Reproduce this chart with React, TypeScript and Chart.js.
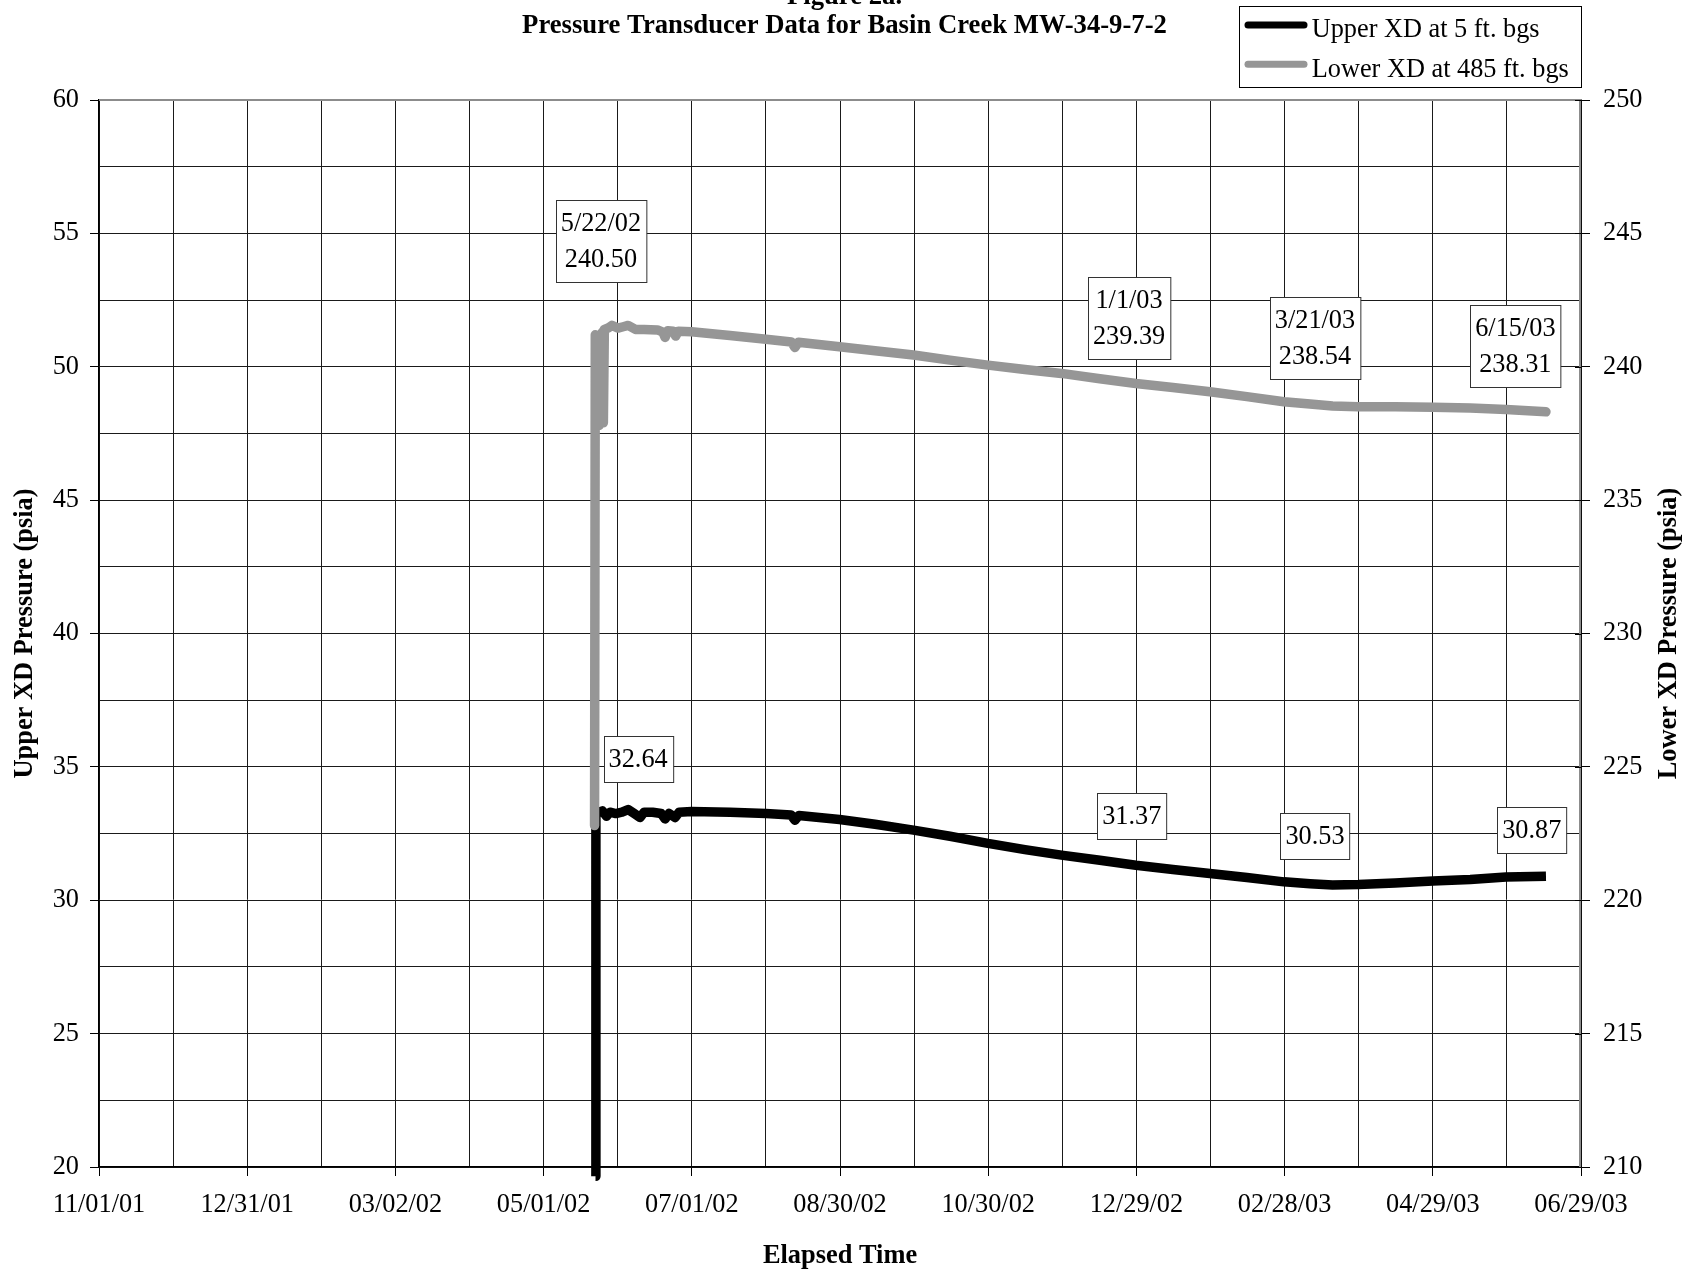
import React, { useEffect, useRef } from 'react';
import { Chart, registerables } from 'chart.js';

Chart.register(...registerables);

// ---- data ----
// x values: elapsed days since 11/01/01
const BASE_DATE_UTC = Date.UTC(2001, 10, 1);
const X_MIN = 0;
const X_MAX = 605;
const X_STEP = 30.25;
const X_LABEL_STEP = 60.5;

const upperDays = [202.69, 202.85, 204.0, 205.5, 207.2, 208.6, 211.0, 213.5, 216.0, 218.5, 220.9, 222.5, 226.0, 229.5, 231.1, 232.7, 235.2, 236.8, 241.9, 257.6, 272.3, 282.5, 284.1, 285.7, 302.3, 316.8, 332.5, 347.4, 362.9, 378.0, 392.9, 408.6, 423.3, 438.4, 453.5, 468.6, 483.7, 494.4, 503.6, 514.0, 529.1, 544.5, 559.8, 574.4, 590.7];
const upperPsia = [19.65, 33.2, 33.3, 33.35, 33.15, 33.3, 33.25, 33.3, 33.4, 33.25, 33.1, 33.3, 33.3, 33.25, 33.05, 33.25, 33.1, 33.3, 33.33, 33.3, 33.25, 33.2, 33.0, 33.18, 33.03, 32.85, 32.63, 32.4, 32.13, 31.9, 31.69, 31.5, 31.31, 31.15, 31.0, 30.85, 30.69, 30.62, 30.57, 30.59, 30.65, 30.72, 30.78, 30.87, 30.9];

const lowerDays = [202.3, 202.6, 203.4, 204.2, 204.6, 205.1, 205.5, 205.9, 206.3, 207.8, 209.4, 211.9, 214.0, 216.0, 219.0, 222.5, 228.0, 230.2, 231.1, 232.2, 234.5, 235.4, 236.5, 241.9, 257.6, 272.3, 282.7, 284.1, 285.5, 302.3, 316.8, 332.5, 347.4, 362.9, 378.0, 392.9, 408.6, 423.3, 438.4, 453.5, 468.6, 483.7, 494.4, 503.6, 514.0, 529.1, 544.5, 559.8, 574.4, 590.7];
const lowerPsia = [222.8, 241.2, 241.0, 237.8, 241.2, 238.0, 241.3, 237.9, 241.4, 241.45, 241.55, 241.45, 241.5, 241.55, 241.4, 241.4, 241.38, 241.3, 241.1, 241.35, 241.33, 241.15, 241.33, 241.31, 241.17, 241.03, 240.93, 240.72, 240.92, 240.75, 240.6, 240.44, 240.25, 240.06, 239.9, 239.75, 239.55, 239.37, 239.22, 239.06, 238.88, 238.69, 238.6, 238.53, 238.5, 238.5, 238.48, 238.45, 238.4, 238.31];

const seriesNames = ['Upper XD at 5 ft. bgs', 'Lower XD at 485 ft. bgs'];

// callout boxes: text lines, anchored at (day, upper-axis psia)
const annoLines = [['5/22/02', '240.50'], ['32.64'], ['1/1/03', '239.39'], ['3/21/03', '238.54'], ['6/15/03', '238.31'], ['31.37'], ['30.53'], ['30.87']];
const annoDays = [204.9, 220.1, 420.5, 496.4, 578.2, 421.6, 496.4, 584.9];
const annoUpper = [54.71, 35.29, 51.81, 51.06, 50.79, 33.14, 32.39, 32.63];

const titleLines = ['Figure 2a.', 'Pressure Transducer Data for Basin Creek MW-34-9-7-2'];
const xTitle = 'Elapsed Time';
const yTitle = 'Upper XD Pressure (psia)';
const y2Title = 'Lower XD Pressure (psia)';

// ---- helpers ----
const FONT = "'Times New Roman', 'Liberation Serif', serif";
const TXT = 26.3;
const pad2 = (n: number) => (n < 10 ? '0' : '') + n;
const fmtDate = (v: number) => {
  const d = new Date(BASE_DATE_UTC + Math.floor(v + 1e-6) * 86400000);
  return pad2(d.getUTCMonth() + 1) + '/' + pad2(d.getUTCDate()) + '/' + pad2(d.getUTCFullYear() % 100);
};
const isMult = (v: number, s: number) => Math.abs(v / s - Math.round(v / s)) < 1e-6;

const overlay = {
  id: 'overlay',
  beforeDatasetsDraw(chart: any) {
    const { ctx, chartArea: a } = chart;
    ctx.save();
    ctx.strokeStyle = '#8c8c8c';
    ctx.lineWidth = 2;
    ctx.beginPath();
    ctx.moveTo(a.left, a.top);
    ctx.lineTo(a.right - 1, a.top);
    ctx.lineTo(a.right - 1, a.bottom);
    ctx.stroke();
    ctx.restore();
  },
  afterDraw(chart: any) {
    const { ctx, chartArea: a, scales } = chart;
    ctx.save();
    // right axis inner tick halves
    ctx.strokeStyle = '#000';
    ctx.lineWidth = 1;
    for (let v = 210; v <= 250; v += 5) {
      const y = Math.round(scales.y2.getPixelForValue(v)) + 0.5;
      ctx.beginPath();
      ctx.moveTo(a.right - 6, y);
      ctx.lineTo(a.right, y);
      ctx.stroke();
    }
    // callouts
    ctx.font = `${TXT}px ${FONT}`;
    ctx.textAlign = 'center';
    ctx.textBaseline = 'middle';
    const LH = 36;
    annoLines.forEach((lines, i) => {
      const cx = scales.x.getPixelForValue(annoDays[i]);
      const cy = scales.y.getPixelForValue(annoUpper[i]);
      const w = Math.max(...lines.map((t) => ctx.measureText(t).width)) + 10;
      const h = lines.length * LH + 10;
      const x0 = Math.round(cx - w / 2) + 0.5;
      const y0 = Math.round(cy - h / 2) + 0.5;
      ctx.fillStyle = '#fff';
      ctx.fillRect(x0, y0, w, h);
      ctx.strokeStyle = '#333';
      ctx.lineWidth = 1;
      ctx.strokeRect(x0, y0, w, h);
      ctx.fillStyle = '#000';
      lines.forEach((t, j) => {
        ctx.fillText(t, cx, cy + (j - (lines.length - 1) / 2) * LH + 1);
      });
    });
    // titles
    ctx.textBaseline = 'alphabetic';
    ctx.font = `bold 26.7px ${FONT}`;
    ctx.fillText(titleLines[0], 844.5, 4);
    ctx.fillText(titleLines[1], 844.5, 33.3);
    ctx.font = `bold 26.4px ${FONT}`;
    ctx.fillText(xTitle, (a.left + a.right) / 2, 1263);
    const midY = (a.top + a.bottom) / 2;
    ctx.textBaseline = 'middle';
    ctx.save();
    ctx.translate(25, midY);
    ctx.rotate(-Math.PI / 2);
    ctx.fillText(yTitle, 0, 0);
    ctx.restore();
    ctx.save();
    ctx.translate(1669, midY);
    ctx.rotate(-Math.PI / 2);
    ctx.fillText(y2Title, 0, 0);
    ctx.restore();
    // legend
    ctx.fillStyle = '#fff';
    ctx.fillRect(1239.5, 6.5, 342, 81);
    ctx.strokeStyle = '#000';
    ctx.lineWidth = 1;
    ctx.strokeRect(1239.5, 6.5, 342, 81);
    const legendColors = ['#000000', '#969696'];
    const rowLineY = [25, 64.3];
    const rowBase = [36.7, 76.7];
    ctx.lineCap = 'round';
    seriesNames.forEach((name, i) => {
      ctx.strokeStyle = legendColors[i];
      ctx.lineWidth = 7;
      ctx.beginPath();
      ctx.moveTo(1248, rowLineY[i]);
      ctx.lineTo(1304, rowLineY[i]);
      ctx.stroke();
      ctx.fillStyle = '#000';
      ctx.font = `${TXT}px ${FONT}`;
      ctx.textAlign = 'left';
      ctx.textBaseline = 'alphabetic';
      ctx.fillText(name, 1311.7, rowBase[i]);
    });
    ctx.restore();
  },
};

export default function App() {
  const ref = useRef<HTMLCanvasElement>(null);
  useEffect(() => {
    document.body.style.margin = '0';
    document.body.style.overflow = 'hidden';
    const toXY = (xs: number[], ys: number[]) => xs.map((x, i) => ({ x, y: ys[i] }));
    const chart = new Chart(ref.current as HTMLCanvasElement, {
      type: 'line',
      data: {
        datasets: [
          {
            label: seriesNames[0],
            data: toXY(upperDays, upperPsia),
            borderColor: '#000000',
            borderWidth: 9.5,
            pointRadius: 0,
            tension: 0,
            borderJoinStyle: 'round',
            borderCapStyle: 'butt',
            yAxisID: 'y',
            clip: false,
            order: 2,
          } as any,
          {
            label: seriesNames[1],
            data: toXY(lowerDays, lowerPsia),
            borderColor: '#969696',
            borderWidth: 9.5,
            pointRadius: 0,
            tension: 0,
            borderJoinStyle: 'round',
            borderCapStyle: 'round',
            yAxisID: 'y2',
            order: 1,
          } as any,
        ],
      },
      options: {
        responsive: false,
        animation: false,
        devicePixelRatio: 1,
        parsing: false,
        normalized: true,
        layout: { padding: { top: 100, left: 0, right: 0, bottom: 0 } },
        plugins: { legend: { display: false }, title: { display: false }, tooltip: { enabled: false } },
        events: [],
        scales: {
          x: {
            type: 'linear',
            position: 'bottom',
            min: X_MIN,
            max: X_MAX,
            ticks: {
              stepSize: X_STEP,
              autoSkip: false,
              maxRotation: 0,
              minRotation: 0,
              padding: 13,
              color: '#000',
              font: { family: FONT, size: TXT },
              callback: (v: any) => (isMult(Number(v), X_LABEL_STEP) ? fmtDate(Number(v)) : ''),
            },
            grid: {
              color: '#1a1a1a',
              lineWidth: 1,
              tickLength: 9,
              tickColor: (c: any) => (c.tick && isMult(c.tick.value, X_LABEL_STEP) ? '#000' : 'rgba(0,0,0,0)'),
            },
            border: { display: true, color: '#000', width: 1.5 },
            afterFit: (s: any) => { s.height = 104; },
          },
          y: {
            type: 'linear',
            position: 'left',
            min: 20,
            max: 60,
            ticks: {
              stepSize: 2.5,
              autoSkip: false,
              padding: 11,
              color: '#000',
              font: { family: FONT, size: TXT },
              callback: (v: any) => (isMult(Number(v), 5) ? String(v) : ''),
            },
            grid: {
              color: '#1a1a1a',
              lineWidth: 1,
              tickLength: 9,
              tickColor: (c: any) => (c.tick && isMult(c.tick.value, 5) ? '#000' : 'rgba(0,0,0,0)'),
            },
            border: { display: true, color: '#000', width: 1.5 },
            afterFit: (s: any) => { s.width = 99; },
          },
          y2: {
            type: 'linear',
            position: 'right',
            min: 210,
            max: 250,
            ticks: {
              stepSize: 5,
              autoSkip: false,
              padding: 13,
              color: '#000',
              font: { family: FONT, size: TXT },
            },
            grid: { drawOnChartArea: false, color: '#000', lineWidth: 1, tickLength: 9 },
            border: { display: true, color: '#000', width: 1.5 },
            afterFit: (s: any) => { s.width = 108; },
          },
        },
      } as any,
      plugins: [overlay],
    });
    return () => chart.destroy();
  }, []);
  return (
    <canvas
      ref={ref}
      width={1689}
      height={1271}
      style={{ display: 'block', width: 1689, height: 1271 }}
    />
  );
}
